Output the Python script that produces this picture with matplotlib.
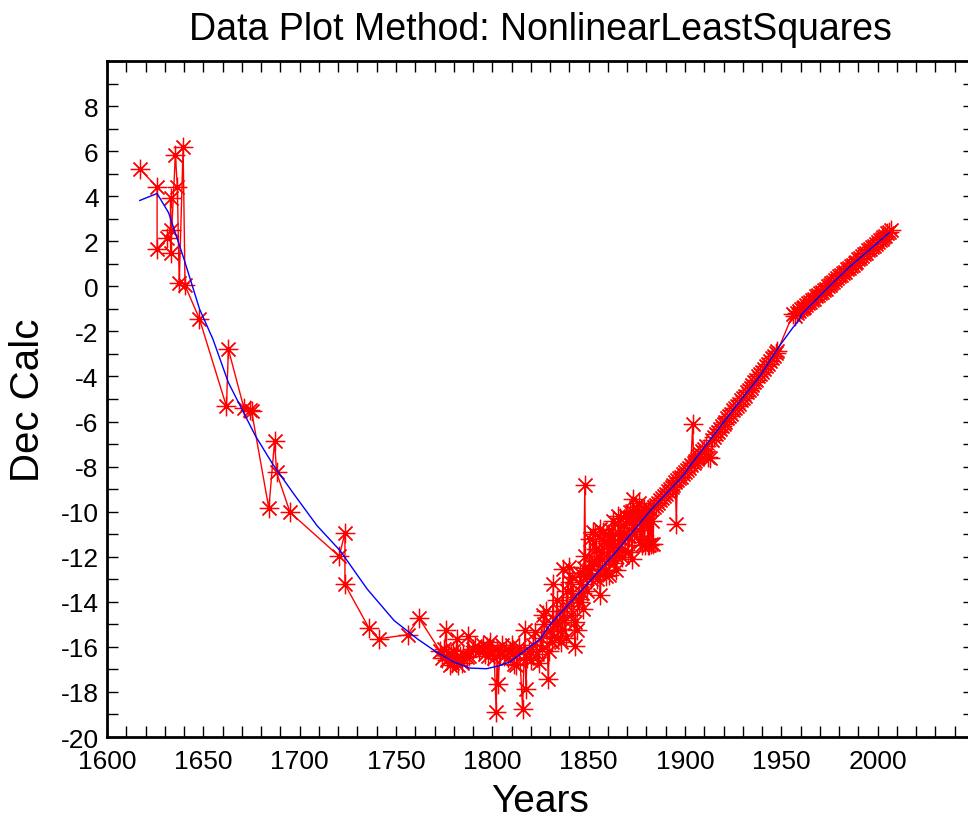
import matplotlib
matplotlib.use("Agg")
import matplotlib.pyplot as plt
from matplotlib.ticker import MultipleLocator

# observed declination (red)
obs_years = [
    1617, 1626, 1626, 1631, 1633, 1633, 1633, 1635.5, 1636.5, 1637.5, 1639.5, 1640.5, 1648,
    1662, 1663, 1671, 1674, 1675, 1684, 1687, 1688, 1695, 1720.5, 1723.5, 1723.5,
    1736, 1741, 1756, 1762,
    1773, 1774, 1775, 1776, 1776.5, 1777, 1778, 1778.5, 1779, 1779.5, 1780, 1781, 1781.5,
    1782, 1783, 1784, 1785, 1787, 1787.5, 1788, 1790, 1791, 1793, 1795, 1796, 1797, 1798,
    1799, 1800, 1801, 1802, 1802.5, 1803, 1804, 1805, 1806, 1807, 1808, 1809, 1810, 1811,
    1812.5, 1813, 1814, 1815.7, 1816.9, 1817.4, 1818, 1819, 1820, 1821, 1822, 1823, 1824,
    1825, 1826, 1827, 1828, 1829, 1830, 1831, 1831.6, 1832, 1833, 1834, 1835, 1836, 1836.7,
    1837, 1838, 1839, 1840, 1840.5, 1841, 1842, 1842.8, 1843.7, 1844.5, 1845, 1846, 1847,
    1848, 1848.3, 1848.8, 1849, 1850, 1851, 1852.3, 1853, 1854, 1855, 1855.8, 1856, 1857,
    1858, 1859.2, 1860, 1861, 1862, 1862.7, 1863, 1864.4, 1865.3, 1866, 1867, 1868, 1869,
    1870, 1871, 1872.3, 1872.5, 1873.1, 1874, 1875, 1876.5, 1877, 1878, 1879, 1880, 1880.8,
    1881.5, 1882, 1883, 1883.4, 1884, 1885, 1886, 1887, 1888, 1889, 1890, 1891, 1892, 1893,
    1894, 1895, 1895.5, 1896, 1897, 1898, 1899, 1900, 1901, 1902, 1903, 1904, 1904.5, 1905,
    1906, 1907, 1908, 1909, 1910, 1911, 1912, 1913, 1914, 1915, 1916, 1917, 1918, 1919,
    1920, 1921, 1922, 1923, 1924, 1925, 1926, 1927, 1928, 1929, 1930, 1931, 1932, 1933,
    1934, 1935, 1936, 1937, 1938, 1939, 1940, 1941, 1942, 1943, 1944, 1945, 1946, 1947,
    1948, 1956, 1957, 1958, 1959, 1960, 1961, 1962, 1963, 1964, 1965, 1966, 1967, 1968,
    1969, 1970, 1971, 1972, 1973, 1974, 1975, 1976, 1977, 1978, 1979, 1980, 1981, 1982,
    1983, 1984, 1985, 1986, 1987, 1988, 1989, 1990, 1991, 1992, 1993, 1994, 1995, 1996,
    1997, 1998, 1999, 2000, 2001, 2002, 2003, 2004, 2005, 2006, 2007,
]
obs_dec = [
    5.21, 4.40, 1.67, 2.13, 2.48, 3.93, 1.48, 5.85, 4.42, 0.16, 6.19, 0.04, -1.45,
    -5.33, -2.79, -5.38, -5.49, -5.52, -9.85, -6.85, -8.26, -10.03, -11.98, -10.94, -13.23,
    -15.17, -15.64, -15.46, -14.73,
    -16.2, -16.5, -16.1, -15.27, -16.6, -16.3, -16.8, -16.4, -16.7, -16.2, -16.6, -16.5, -15.64,
    -16.8, -16.4, -16.7, -16.3, -16.45, -15.5, -16.4, -16.1, -15.94, -16.2, -15.9, -16.3, -16.0,
    -16.4, -15.8, -16.2, -16.5, -18.89, -16.1, -17.63, -16.3, -15.9, -16.4, -16.1, -16.5, -16.2,
    -15.9, -16.75, -16.82, -16.3, -16.0, -18.74, -15.27, -17.89, -16.5, -16.2, -16.6, -15.9,
    -15.35, -16.3, -16.7, -15.6, -16.1, -15.0, -14.39, -17.41, -15.3, -15.8, -13.2, -15.5,
    -14.9, -15.6, -14.4, -15.2, -12.54, -14.8, -15.6, -14.2, -12.46, -13.13, -14.6, -13.8,
    -15.94, -15.27, -13.87, -14.0, -13.2, -14.3, -8.82, -11.95, -12.84, -13.5, -12.6, -13.0,
    -10.91, -12.2, -11.65, -12.7, -10.77, -13.72, -12.1, -11.3, -12.84, -11.0, -12.0, -11.6,
    -10.4, -12.3, -11.95, -10.18, -11.4, -11.21, -10.6, -11.7, -10.4, -11.1, -9.96, -12.1,
    -9.44, -10.3, -10.8, -11.36, -10.2, -10.6, -11.5, -10.0, -11.5, -11.5, -9.9, -10.4,
    -11.43, -9.8, -9.7, -9.6, -9.5, -9.4, -9.3, -9.2, -9.1, -9.0, -8.9, -8.8, -8.7, -10.54,
    -8.6, -8.5, -8.45, -8.35, -8.25, -8.15, -8.05, -7.95, -6.11, -7.85, -7.75, -7.65, -7.55,
    -7.45, -7.3, -7.2, -7.1, -7.59, -7.6, -6.8, -6.7, -6.55, -6.45, -6.35, -6.2, -6.1, -6.0,
    -5.85, -5.75, -5.65, -5.5, -5.4, -5.3, -5.2, -5.05, -4.95, -4.85, -4.7, -4.6, -4.5, -4.4,
    -4.25, -4.15, -4.0, -3.9, -3.8, -3.65, -3.55, -3.45, -3.3, -3.2, -3.1, -2.95, -2.87,
    -1.24, -1.3, -1.2, -1.1, -1.0, -0.95, -0.9, -0.85, -0.75, -0.7, -0.6, -0.55, -0.45, -0.4,
    -0.3, -0.25, -0.15, -0.1, 0.0, 0.05, 0.15, 0.2, 0.3, 0.35, 0.45, 0.5, 0.6, 0.65, 0.75,
    0.8, 0.9, 0.95, 1.05, 1.1, 1.2, 1.25, 1.35, 1.45, 1.5, 1.6, 1.65, 1.75, 1.8, 1.9, 1.95,
    2.05, 2.1, 2.2, 2.25, 2.35, 2.4, 2.5,
]

# extra readings in the crowded 1825-1885 stretch
extra_years = [1826.5, 1829.5, 1833.5, 1835.5, 1838.5, 1841.5, 1843, 1845.5, 1846.5, 1847.5,
               1850.5, 1851.5, 1853.5, 1854.5, 1856.5, 1857.5, 1858.5, 1859.5, 1860.5, 1861.5,
               1863.5, 1864, 1865, 1866.5, 1867.5, 1868.5, 1869.5, 1870.5, 1871.5, 1873.5,
               1874.5, 1875.5, 1876, 1877.5, 1878.5, 1879.5, 1881, 1882.5]
extra_dec = [-14.6, -16.2, -13.9, -15.8, -13.5, -12.9, -14.9, -12.7, -13.6, -12.5,
             -11.2, -12.4, -11.0, -13.0, -11.8, -10.9, -12.6, -11.4, -12.8, -10.8,
             -11.0, -12.6, -11.6, -10.3, -12.0, -11.0, -10.2, -11.8, -10.0, -11.0,
             -9.8, -10.0, -9.6, -11.5, -9.9, -10.3, -9.9, -11.45]

# fitted curve (blue)
fit_years = [1617, 1626, 1632, 1640, 1648, 1655, 1663, 1677, 1686, 1697, 1709, 1721, 1735,
             1749, 1761, 1771, 1780, 1788, 1797, 1803, 1809, 1817, 1825, 1830, 1847, 1864,
             1882, 1899, 1904, 1916, 1928, 1939, 1949, 1956, 1959.5, 1960.5, 1975, 1985,
             1996, 2006]
fit_dec = [3.81, 4.12, 3.26, 1.20, -1.0, -2.35, -4.27, -6.63, -7.89, -9.22, -10.62, -11.73,
           -13.43, -14.83, -15.64, -16.23, -16.67, -16.94, -16.97, -16.85, -16.67, -16.16,
           -15.64, -15.0, -13.43, -11.8, -9.95, -8.4, -7.81, -6.48, -5.15, -3.97, -2.65,
           -1.83, -1.46, -1.24, 0.01, 0.83, 1.64, 2.38]

x_ticks = [1600, 1650, 1700, 1750, 1800, 1850, 1900, 1950, 2000]
y_ticks = list(range(-20, 9, 2))

plt.rcParams['font.family'] = ['Liberation Sans', 'DejaVu Sans']
plt.rcParams['axes.unicode_minus'] = False

# merge the readings in time order (stable, so same-year order is kept)
pts = sorted(zip(obs_years + extra_years, obs_dec + extra_dec), key=lambda p: p[0])
years = [p[0] for p in pts]
dec = [p[1] for p in pts]

fig = plt.figure(figsize=(9.68, 8.2), dpi=100)
ax = fig.add_axes([107 / 968, 1 - 738 / 820, 867 / 968, 676 / 820])

ax.plot(years, dec, color='red', lw=1.0, marker=(8, 2, 0), markersize=14,
        markeredgewidth=0.9, zorder=2)
ax.plot(fit_years, fit_dec, color='blue', lw=1.0, zorder=3)

ax.set_xlim(1600, 2050)
ax.set_ylim(-20, 10)
ax.set_xticks(x_ticks)
ax.set_yticks(y_ticks)
ax.xaxis.set_minor_locator(MultipleLocator(10))
ax.yaxis.set_minor_locator(MultipleLocator(1))
ax.tick_params(which='both', direction='in', top=True, right=True, length=8, width=1,
               labelsize=19)
ax.tick_params(axis='x', pad=9)
ax.tick_params(axis='y', pad=6)
for sp in ax.spines.values():
    sp.set_linewidth(2)

ax.set_title('Data Plot Method: NonlinearLeastSquares', fontsize=27, pad=16)
ax.set_xlabel('Years', fontsize=28, labelpad=7)
ax.set_ylabel('Dec Calc', fontsize=29, labelpad=10)

fig.savefig('out.png', dpi=100)
